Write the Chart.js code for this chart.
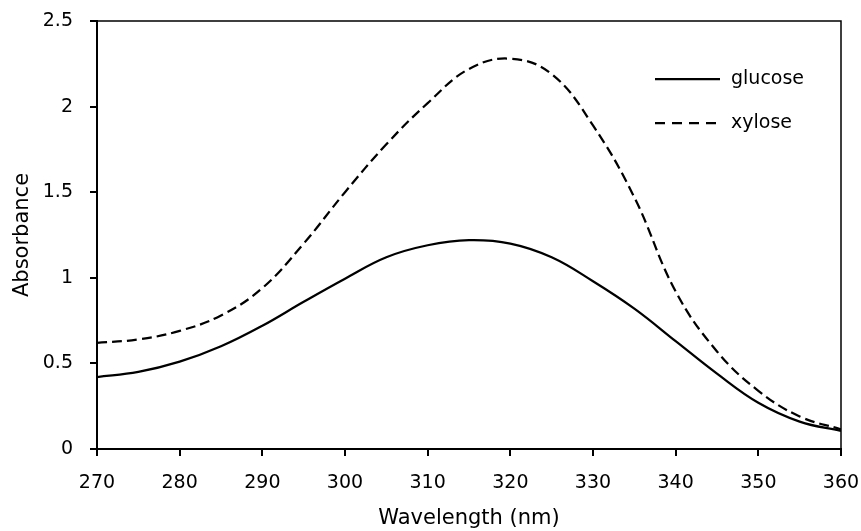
<!doctype html>
<html lang="en">
<head>
  <meta charset="utf-8">
  <title>Absorbance spectra</title>
  <style>
    * { margin: 0; padding: 0; }
    body { background: white; }
    .chartBox { width: 861px; height: 531px; position: relative; }
  </style>
</head>
<body>
<div class="chartBox">
  <canvas id="myChart"></canvas>
</div>

<script src="https://cdn.jsdelivr.net/npm/chart.js"></script>
<script>
  // wavelengths (nm) and absorbance
  const wavelength = [270, 275, 280, 285, 290, 295, 300, 305, 310, 315, 320, 325, 330, 335, 340, 345, 350, 355, 360];
  const glucose = [0.42, 0.45, 0.51, 0.60, 0.72, 0.86, 0.995, 1.12, 1.19, 1.22, 1.20, 1.12, 0.98, 0.82, 0.63, 0.44, 0.27, 0.16, 0.105];
  const xylose = [0.62, 0.64, 0.69, 0.78, 0.94, 1.20, 1.50, 1.78, 2.02, 2.22, 2.28, 2.19, 1.89, 1.47, 0.92, 0.57, 0.34, 0.19, 0.115];
  const seriesNames = ['glucose', 'xylose'];
  const xTicks = { min: 270, max: 360, step: 10 };
  const yTicks = { min: 0, max: 2.5, step: 0.5 };

  const FONT = '"DejaVu Sans", sans-serif';
  Chart.defaults.font.family = FONT;
  Chart.defaults.font.size = 19;
  Chart.defaults.color = 'black';

  const toPoints = (arr) => wavelength.map((w, i) => ({ x: w, y: arr[i] }));

  // box round the plot area (top + right edges)
  const frame = {
    id: 'frame',
    afterDraw(chart) {
      const { ctx, chartArea: a } = chart;
      ctx.save();
      ctx.strokeStyle = 'black';
      ctx.lineWidth = 1.5;
      ctx.beginPath();
      ctx.moveTo(a.left, a.top);
      ctx.lineTo(a.right, a.top);
      ctx.lineTo(a.right, a.bottom);
      ctx.stroke();
      ctx.restore();
    }
  };

  // legend inside the plot, top right
  const insideLegend = {
    id: 'insideLegend',
    afterDraw(chart, args, opts) {
      const { ctx } = chart;
      ctx.save();
      ctx.font = '19px ' + FONT;
      ctx.textBaseline = 'middle';
      chart.data.datasets.forEach((ds, i) => {
        const y = opts.y + i * opts.gap;
        ctx.strokeStyle = ds.borderColor;
        ctx.lineWidth = ds.borderWidth;
        ctx.setLineDash(opts.dashes[i]);
        ctx.beginPath();
        ctx.moveTo(opts.x, y);
        ctx.lineTo(opts.x + opts.len, y);
        ctx.stroke();
        ctx.setLineDash([]);
        ctx.fillStyle = 'black';
        ctx.fillText(ds.label, opts.x + opts.len + 11, y);
      });
      ctx.restore();
    }
  };

  const data = {
    datasets: [{
      label: seriesNames[0],
      data: toPoints(glucose),
      borderColor: 'black',
      borderWidth: 2.25,
      pointRadius: 0,
      tension: 0.4
    }, {
      label: seriesNames[1],
      data: toPoints(xylose),
      borderColor: 'black',
      borderWidth: 2.25,
      borderDash: [10, 5],
      pointRadius: 0,
      tension: 0.4
    }]
  };

  const config = {
    type: 'line',
    data,
    options: {
      responsive: false,
      animation: false,
      layout: { padding: { left: 0, right: 20, top: 21, bottom: 0 } },
      scales: {
        x: {
          type: 'linear',
          min: xTicks.min,
          max: xTicks.max,
          ticks: { stepSize: xTicks.step, padding: 16 },
          grid: { drawOnChartArea: false, drawTicks: true, tickLength: 7, color: 'black', lineWidth: 2 },
          border: { display: true, color: 'black', width: 2 },
          title: { display: true, text: 'Wavelength (nm)', font: { size: 21 }, padding: 0 },
          afterFit: (scale) => {
            scale.height = 82;
            scale.paddingLeft = 0;
            scale.paddingRight = 0;
          }
        },
        y: {
          min: yTicks.min,
          max: yTicks.max,
          ticks: { stepSize: yTicks.step, padding: 17, callback: (v) => v },
          grid: { drawOnChartArea: false, drawTicks: true, tickLength: 7, color: 'black', lineWidth: 2 },
          border: { display: true, color: 'black', width: 2 },
          title: { display: true, text: 'Absorbance', font: { size: 21 }, padding: { top: 10, bottom: 0 } },
          afterFit: (scale) => {
            scale.width = 97;
            scale.paddingTop = 0;
            scale.paddingBottom = 0;
          }
        }
      },
      plugins: {
        legend: { display: false },
        tooltip: { enabled: false },
        insideLegend: { x: 655, y: 79, gap: 44, len: 65, dashes: [[], [10, 7]] }
      }
    },
    plugins: [frame, insideLegend]
  };

  const canvas = document.getElementById('myChart');
  canvas.width = 861;
  canvas.height = 531;
  new Chart(canvas, config);
</script>
</body>
</html>
